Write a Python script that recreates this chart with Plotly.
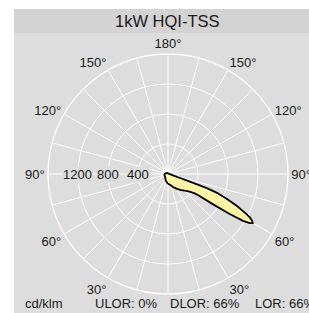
import plotly.graph_objects as go

# ---- data (cd/klm) ----
# C0 plane (drawn on the right half), gamma measured from nadir
c0_gamma = [0, 5, 10, 15, 20, 25, 30, 35, 40, 45, 50, 52, 54, 55, 56, 57, 58, 59, 60,
            61, 62, 63, 64, 65, 66, 67, 68, 69, 70, 71, 72, 75, 80, 85, 90,
            100, 120, 150, 180]
c0_values = [130, 135, 145, 160, 180, 200, 225, 250, 280, 315, 360, 390, 440, 500, 700, 980, 1180, 1270, 1305,
             1280, 1240, 1170, 1090, 1020, 940, 860, 780, 700, 560, 300, 150, 60, 35, 25, 20,
             15, 10, 8, 8]
# C180 plane (drawn on the left half)
c180_gamma = [0, 10, 20, 30, 45, 60, 75, 90, 105, 120, 150, 180]
c180_values = [130, 110, 90, 70, 55, 50, 50, 45, 35, 25, 15, 8]

title_text = "1kW HQI-TSS"
radial_ticks = [400, 800, 1200]
unit_text = "cd/klm"
ulor_text = "ULOR: 0%"
dlor_text = "DLOR: 66%"
lor_text = "LOR: 66%"

W, H = 309, 313
panel_col = "#dddddd"
bar_col = "#d3d3d3"
font_fam = "Liberation Sans, Arial, sans-serif"

theta = list(c0_gamma) + [360 - g for g in reversed(c180_gamma)]
r = list(c0_values) + list(reversed(c180_values))

tickvals = list(range(0, 360, 15))
ticktext = []
for t in tickvals:
    if t % 30 == 0 and t != 0:
        ticktext.append(f"{min(t, 360 - t)}°")
    else:
        ticktext.append("")

dom_x = [48 / W, 288 / W]
dom_y = [(H - 294) / H, (H - 54) / H]

fig = go.Figure()
fig.add_trace(go.Scatterpolar(
    r=r, theta=theta, mode="lines", fill="toself",
    fillcolor="#fff4a3", line=dict(color="black", width=1.8),
    hoverinfo="skip", showlegend=False))

fig.update_layout(
    width=W, height=H,
    margin=dict(l=0, r=0, t=0, b=0),
    paper_bgcolor="white",
    plot_bgcolor="white",
    showlegend=False,
    font=dict(family=font_fam, size=13, color="#1a1a1a"),
    polar=dict(
        domain=dict(x=dom_x, y=dom_y),
        bgcolor="rgba(0,0,0,0)",
        radialaxis=dict(range=[0, 1600], tickvals=[400, 800, 1200, 1600],
                        showticklabels=False, ticks="", showline=False,
                        gridcolor="white", gridwidth=1.3, angle=270),
        angularaxis=dict(rotation=-90, direction="counterclockwise",
                         tickmode="array", tickvals=tickvals, ticktext=ticktext,
                         ticks="", showline=True, linecolor="white", linewidth=1.3,
                         gridcolor="white", gridwidth=1.3,
                         tickfont=dict(size=13, color="#1a1a1a")),
    ),
    shapes=[
        dict(type="rect", xref="paper", yref="paper", x0=14 / W, x1=1.0,
             y0=0, y1=(H - 9) / H, fillcolor=panel_col, line=dict(width=0), layer="below"),
        dict(type="rect", xref="paper", yref="paper", x0=14 / W, x1=1.0,
             y0=(H - 33) / H, y1=(H - 9) / H, fillcolor=bar_col, line=dict(width=0), layer="below"),
    ],
)

cx = (dom_x[0] + dom_x[1]) / 2
R = (dom_x[1] - dom_x[0]) / 2
cy = (dom_y[0] + dom_y[1]) / 2
annotations = [
    dict(text=title_text, x=167 / W, y=(H - 21) / H, xref="paper", yref="paper",
         showarrow=False, font=dict(size=16.5, color="#1a1a1a"), xanchor="center", yanchor="middle"),
    dict(text=unit_text, x=23 / W, y=(H - 303) / H, xref="paper", yref="paper",
         showarrow=False, xanchor="left", yanchor="middle"),
    dict(text=ulor_text, x=93 / W, y=(H - 303) / H, xref="paper", yref="paper",
         showarrow=False, xanchor="left", yanchor="middle"),
    dict(text=dlor_text, x=168 / W, y=(H - 303) / H, xref="paper", yref="paper",
         showarrow=False, xanchor="left", yanchor="middle"),
    dict(text=lor_text, x=253 / W, y=(H - 303) / H, xref="paper", yref="paper",
         showarrow=False, xanchor="left", yanchor="middle"),
]
for v in radial_ticks:
    annotations.append(dict(
        text=str(v), x=cx - R * v / 1600, y=cy, xref="paper", yref="paper",
        showarrow=False, xanchor="center", yanchor="middle",
        bgcolor=panel_col, borderpad=0))
fig.update_layout(annotations=annotations)

fig.write_html("out.html", config=dict(displayModeBar=False),
               post_script="document.body.style.margin='0px';document.body.style.overflow='hidden';")
